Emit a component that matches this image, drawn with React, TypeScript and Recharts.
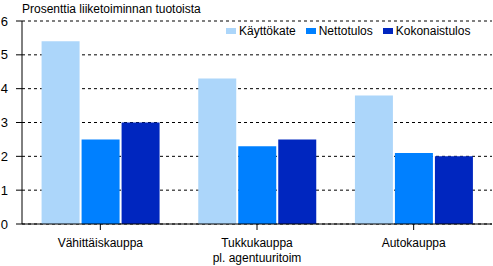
import React from 'react';
import {
  BarChart,
  Bar,
  XAxis,
  YAxis,
  CartesianGrid,
} from 'recharts';

const categories = ['Vähittäiskauppa', 'Tukkukauppa\npl. agentuuritoim', 'Autokauppa'];
const kayttokate = [5.4, 4.3, 3.8];
const nettotulos = [2.5, 2.3, 2.1];
const kokonaistulos = [3.0, 2.5, 2.0];
const yTicks = [0, 1, 2, 3, 4, 5, 6];

const SERIES = [
  { key: 'Käyttökate', color: '#acd6fa' },
  { key: 'Nettotulos', color: '#0080ff' },
  { key: 'Kokonaistulos', color: '#0026bf' },
];

const FONT = '"Liberation Sans", Arial, sans-serif';

const data = categories.map((name, i) => ({
  name,
  'Käyttökate': kayttokate[i],
  'Nettotulos': nettotulos[i],
  'Kokonaistulos': kokonaistulos[i],
}));

const CategoryTick = ({ x, y, payload }: any) => {
  const lines = String(payload.value).split('\n');
  return (
    <text x={x} y={y} textAnchor="middle" fontSize={12} fontFamily={FONT} fill="#000">
      {lines.map((l, i) => (
        <tspan key={i} x={x} dy={i === 0 ? 15 : 15}>{l}</tspan>
      ))}
    </text>
  );
};

// legend drawn as plain html so it doesn't eat plot space
const LegendBox = () => (
  <div style={{ position: 'absolute', left: 226, top: 24, display: 'flex', fontFamily: FONT, fontSize: 12, color: '#000', whiteSpace: 'nowrap' }}>
    {SERIES.map((s) => (
      <div key={s.key} style={{ display: 'flex', alignItems: 'center', marginRight: 10 }}>
        <span style={{ display: 'inline-block', width: 10, height: 6, background: s.color, marginRight: 3 }} />
        <span>{s.key}</span>
      </div>
    ))}
  </div>
);

export default function App() {
  return (
    <div style={{ position: 'absolute', left: 0, top: 0, width: 493, height: 266, background: '#fff' }}>
      <div style={{ position: 'absolute', left: 22, top: 2, fontFamily: FONT, fontSize: 12, color: '#000' }}>
        Prosenttia liiketoiminnan tuotoista
      </div>
      <BarChart
        width={493}
        height={266}
        data={data}
        margin={{ top: 21, right: 1, left: 0, bottom: 0 }}
        barCategoryGap="12.5%"
        barGap={2}
      >
        <CartesianGrid vertical={false} stroke="#000" strokeDasharray="3 3" />
        <XAxis
          dataKey="name"
          height={42}
          tickSize={6}
          stroke="#000"
          tickLine={{ stroke: '#000' }}
          axisLine={{ stroke: '#000' }}
          tick={<CategoryTick />}
          interval={0}
        />
        <XAxis xAxisId="top" dataKey="name" orientation="top" height={0} tick={false} tickLine={false} axisLine={{ stroke: '#000' }} />
        <YAxis
          domain={[0, 6]}
          ticks={yTicks}
          width={22}
          tickSize={6}
          tickMargin={8}
          stroke="#000"
          tick={{ fontSize: 13, fontFamily: FONT, fill: '#000' }}
        />
        <YAxis yAxisId="right" orientation="right" width={0} domain={[0, 6]} tick={false} tickLine={false} axisLine={{ stroke: '#000' }} />
        {SERIES.map((s) => (
          <Bar key={s.key} dataKey={s.key} fill={s.color} isAnimationActive={false} />
        ))}
      </BarChart>
      <LegendBox />
    </div>
  );
}
